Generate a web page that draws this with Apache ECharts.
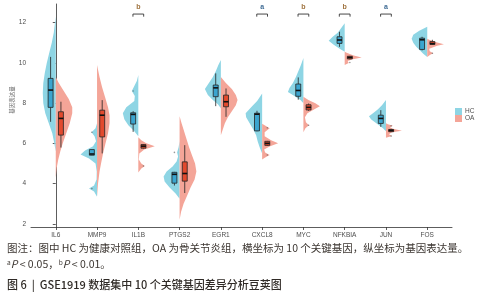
<!DOCTYPE html>
<html>
<head>
<meta charset="utf-8">
<script src="https://cdn.jsdelivr.net/npm/echarts@6/dist/echarts.min.js"></script>
<style>
  html, body { margin: 0; padding: 0; background: #fff; }
  #chart { width: 488px; height: 300px; }
</style>
</head>
<body>
<div id="chart"></div>
<script>
const genes = ['IL6', 'MMP9', 'IL1B', 'PTGS2', 'EGR1', 'CXCL8', 'MYC', 'NFKBIA', 'JUN', 'FOS'];
const yTicks = [2, 4, 6, 8, 10, 12];

// box stats per gene: [lower whisker, q1, median, q3, upper whisker]
const hcBox = [
  [7.07, 7.79, 8.65, 9.23, 10.3],
  [5.40, 5.41, 5.47, 5.69, 5.70],
  [6.57, 6.96, 7.44, 7.52, 7.60],
  [3.90, 4.02, 4.46, 4.56, 4.58],
  [7.85, 8.32, 8.76, 8.90, 9.48],
  [6.60, 6.62, 7.45, 7.50, 7.62],
  [8.17, 8.34, 8.63, 8.95, 9.28],
  [10.80, 10.97, 11.14, 11.30, 11.55],
  [6.82, 6.99, 7.24, 7.40, 7.65],
  [10.62, 10.67, 11.15, 11.23, 11.30]
];
const oaBox = [
  [5.79, 6.41, 7.24, 7.57, 8.07],
  [5.50, 6.32, 7.40, 7.65, 8.15],
  [5.74, 5.76, 5.86, 5.94, 5.96],
  [3.53, 4.12, 4.50, 5.08, 5.91],
  [7.32, 7.82, 8.07, 8.40, 8.73],
  [5.87, 5.90, 6.00, 6.10, 6.12],
  [7.62, 7.66, 7.79, 7.92, 7.98],
  [10.18, 10.20, 10.27, 10.33, 10.35],
  [6.56, 6.58, 6.64, 6.69, 6.72],
  [10.90, 10.92, 10.96, 11.06, 11.15]
];

// half-violin outlines: [expression, density]
const hcViolin = [
  [[5.6,0],[6.0,1.5],[6.5,3.5],[7.0,7],[7.5,10.5],[8.0,12.5],[8.5,13],[9.0,12.5],[9.5,11],[10.0,9],[10.5,6.5],[11.0,4],[11.5,2],[12.0,0.8],[12.3,0]],
  [[3.35,0],[3.6,3],[3.75,8],[3.9,3],[4.2,0.5],[4.6,0.3],[5.0,1.5],[5.25,8],[5.45,16.5],[5.65,12],[5.85,4],[6.1,1],[6.35,2.5],[6.55,5.5],[6.75,1.5],[7.0,0]],
  [[6.35,0],[6.6,4],[6.9,10],[7.2,14],[7.5,15.5],[7.8,12],[8.1,4],[8.35,3.5],[8.6,6.5],[8.85,4],[9.1,1.5],[9.4,0]],
  [[3.25,0],[3.5,4],[3.8,10],[4.1,15],[4.35,16],[4.6,13],[4.85,7],[5.1,3],[5.35,1.5],[5.55,2.5],[5.8,1],[6.1,0]],
  [[7.75,0],[7.95,3],[8.15,8],[8.4,13],[8.7,16],[9.0,12],[9.3,8],[9.6,5],[9.9,2.5],[10.15,0]],
  [[5.5,0],[5.8,2.5],[6.1,4.5],[6.4,6],[6.7,9],[7.0,12.5],[7.3,16],[7.5,16.5],[7.8,11],[8.1,5],[8.48,0]],
  [[8.0,0],[8.15,3],[8.35,9],[8.55,15.5],[8.75,14],[9.0,10.5],[9.3,7.5],[9.6,5],[9.9,2.5],[10.25,0]],
  [[10.55,0],[10.7,5],[10.9,11],[11.1,16],[11.3,12],[11.5,7],[11.7,4],[11.97,0]],
  [[6.6,0],[6.75,3],[6.9,7],[7.05,11],[7.2,15],[7.35,17],[7.5,13],[7.7,8],[7.9,4],[8.15,0]],
  [[10.3,0],[10.45,4],[10.6,7],[10.8,11],[11.0,14],[11.2,15.6],[11.4,14],[11.6,8],[11.8,0]]
];
const oaViolin = [
  [[4.3,0],[4.8,1],[5.2,2.5],[5.6,4.5],[6.0,7],[6.5,10.5],[7.0,14],[7.5,16.5],[7.8,16.5],[8.2,13],[8.6,8],[9.0,3],[9.3,0]],
  [[3.35,0],[4.0,1],[4.6,2.5],[5.0,4],[5.5,6],[6.0,8.5],[6.5,11],[7.0,12.5],[7.4,12.5],[7.8,11],[8.3,8],[8.8,5],[9.3,2.5],[9.9,0]],
  [[4.55,0],[4.75,3],[4.87,6.5],[5.0,3],[5.2,0.5],[5.5,1],[5.7,6],[5.86,16.5],[6.0,8],[6.15,3],[6.3,0]],
  [[2.2,0],[2.6,1.5],[3.0,4],[3.4,7.5],[3.8,11],[4.2,15],[4.6,16.8],[5.0,15.5],[5.4,12.5],[5.8,9.5],[6.2,7],[6.6,4.5],[7.0,2],[7.35,0]],
  [[6.4,0],[6.7,2],[7.0,4],[7.3,7],[7.6,11],[7.9,15],[8.15,16.7],[8.4,15],[8.7,11],[9.0,5],[9.3,0]],
  [[5.2,0],[5.3,3],[5.42,7.5],[5.55,3],[5.7,2],[5.85,8],[6.0,16],[6.15,9],[6.35,2.5],[6.55,2.5],[6.75,7.5],[6.9,2.5],[6.98,0]],
  [[6.55,0],[6.75,2],[6.9,5.5],[7.05,2.5],[7.3,1.5],[7.5,4],[7.7,11],[7.85,16.5],[8.0,12],[8.15,5],[8.32,0]],
  [[9.9,0],[10.0,4],[10.1,3],[10.18,8],[10.27,17],[10.37,9],[10.5,2],[10.55,0]],
  [[6.28,0],[6.36,6],[6.45,3],[6.55,6],[6.63,16],[6.72,7],[6.8,4],[6.87,7],[6.95,2],[7.0,0]],
  [[10.3,0],[10.4,3],[10.48,6],[10.58,2.5],[10.7,2],[10.85,10],[10.93,16.7],[11.02,10],[11.15,2],[11.2,0]]
];

// outliers: [gene index, value]
const hcOutliers = [[1, 6.55], [1, 3.75], [2, 8.6], [3, 5.55]];
const oaOutliers = [[2, 4.87], [5, 6.77], [5, 5.42], [6, 6.9], [7, 10.02], [8, 6.87], [8, 6.36], [9, 10.48]];

const sigLabels = ['', '', 'b', '', '', 'a', 'b', 'b', 'a', ''];

const hcColor = '#8ed5e4';
const oaColor = '#f4a598';
const hcBoxColor = '#3ba5cf';
const oaBoxColor = '#e24a2e';
const densityScale = 0.0242; // density -> category width
const boxOffset = 0.125;
const boxHalf = 0.06;
const fontColor = '#4d4d4d';
const lineColor = '#333';

function halfViolin(profiles, boxes, side, fill, boxFill) {
  return function (params, api) {
    const i = api.value(0);
    const pts = profiles[i].map(p => api.coord([i + side * p[1] * densityScale, p[0]]));
    const b = boxes[i];
    const bx = i + side * boxOffset;
    const tl = api.coord([bx - boxHalf, b[3]]);
    const br = api.coord([bx + boxHalf, b[1]]);
    const wTop = api.coord([bx, b[4]]);
    const wBot = api.coord([bx, b[0]]);
    const mL = api.coord([bx - boxHalf, b[2]]);
    const mR = api.coord([bx + boxHalf, b[2]]);
    return {
      type: 'group',
      children: [
        { type: 'polygon', shape: { points: pts }, style: { fill: fill } },
        { type: 'line', shape: { x1: wTop[0], y1: wTop[1], x2: wTop[0], y2: tl[1] }, style: { stroke: '#222', lineWidth: 0.8 } },
        { type: 'line', shape: { x1: wBot[0], y1: br[1], x2: wBot[0], y2: wBot[1] }, style: { stroke: '#222', lineWidth: 0.8 } },
        { type: 'rect', shape: { x: tl[0], y: tl[1], width: br[0] - tl[0], height: Math.max(br[1] - tl[1], 1) }, style: { fill: boxFill, stroke: '#222', lineWidth: 0.8 } },
        { type: 'line', shape: { x1: mL[0], y1: mL[1], x2: mR[0], y2: mR[1] }, style: { stroke: '#111', lineWidth: 1.6 } }
      ]
    };
  };
}

const chart = echarts.init(document.getElementById('chart'), null, { renderer: 'canvas' });

const option = {
  backgroundColor: '#fff',
  animation: false,
  textStyle: { fontFamily: 'Liberation Sans' },
  grid: { left: 31, right: 36, top: 4, bottom: 73 },
  legend: {
    orient: 'vertical',
    left: 455,
    top: 108,
    padding: 0,
    itemGap: 0,
    itemWidth: 7,
    itemHeight: 7,
    icon: 'rect',
    data: ['HC', 'OA'],
    textStyle: { fontSize: 6.5, color: fontColor, padding: [0, 0, 0, -2] }
  },
  xAxis: {
    type: 'value',
    min: -0.6,
    max: 9.6,
    axisLine: { lineStyle: { color: lineColor, width: 0.8 } },
    axisTick: { length: 3, lineStyle: { color: lineColor, width: 0.8 }, customValues: genes.map((g, i) => i) },
    axisLabel: {
      fontSize: 6.5, color: fontColor, margin: 5,
      customValues: genes.map((g, i) => i),
      formatter: v => genes[v]
    },
    splitLine: { show: false }
  },
  yAxis: {
    type: 'value',
    min: 1.84,
    max: 12.93,
    axisLine: { show: true, lineStyle: { color: lineColor, width: 0.8 } },
    axisTick: { show: true, length: 3, lineStyle: { color: lineColor, width: 0.8 }, customValues: yTicks },
    axisLabel: { fontSize: 6.5, color: fontColor, margin: 5, customValues: yTicks },
    splitLine: { show: false }
  },
  series: [
    {
      name: 'HC',
      type: 'custom',
      itemStyle: { color: hcColor },
      renderItem: halfViolin(hcViolin, hcBox, -1, hcColor, hcBoxColor),
      data: genes.map((g, i) => [i, hcBox[i][2]]),
      clip: false
    },
    {
      name: 'OA',
      type: 'custom',
      itemStyle: { color: oaColor },
      renderItem: halfViolin(oaViolin, oaBox, 1, oaColor, oaBoxColor),
      data: genes.map((g, i) => [i, oaBox[i][2]]),
      clip: false
    },
    {
      name: 'HC outliers',
      type: 'scatter',
      symbolSize: 1.6,
      itemStyle: { color: '#555', opacity: 0.6 },
      data: hcOutliers.map(o => [o[0] - boxOffset, o[1]])
    },
    {
      name: 'OA outliers',
      type: 'scatter',
      symbolSize: 1.6,
      itemStyle: { color: '#555', opacity: 0.6 },
      data: oaOutliers.map(o => [o[0] + boxOffset, o[1]])
    },
    {
      name: 'sig',
      type: 'custom',
      clip: false,
      data: sigLabels.map((s, i) => [i, 12.43]).filter((d, i) => sigLabels[i]),
      renderItem: function (params, api) {
        const i = api.value(0);
        const l = api.coord([i - 0.13, 12.43]);
        const r = api.coord([i + 0.13, 12.43]);
        const lb = api.coord([i - 0.13, 12.3]);
        const t = api.coord([i, 12.76]);
        return {
          type: 'group',
          children: [
            { type: 'polyline', shape: { points: [[lb[0], lb[1]], l, r, [r[0], lb[1]]] }, style: { stroke: '#333', lineWidth: 0.9, fill: null } },
            { type: 'text', x: t[0], y: t[1], style: { text: sigLabels[i], fontSize: 7, fontWeight: 'bold', fill: sigLabels[i] === 'a' ? '#3f6b94' : '#a07440', align: 'center', verticalAlign: 'middle', fontFamily: 'Liberation Sans' } }
          ]
        };
      }
    }
  ],
  graphic: [
    {
      type: 'text', x: 12, y: 100, rotation: Math.PI / 2,
      style: { text: '基因表达量', fontSize: 5.5, fill: '#666', align: 'center', verticalAlign: 'middle', fontFamily: 'Noto Sans CJK SC' }
    },
    {
      type: 'text', left: 7, top: 243,
      style: { text: '图注：图中 HC 为健康对照组，OA 为骨关节炎组，横坐标为 10 个关键基因，纵坐标为基因表达量。', fontSize: 10.5, fill: '#3b3530', fontFamily: 'Noto Sans CJK SC' }
    },
    {
      type: 'text', left: 7, top: 259,
      style: {
        text: '{sup|a}{it|P} < 0.05，{sup|b}{it|P} < 0.01。',
        fontSize: 10.5, fill: '#3b3530', fontFamily: 'Noto Sans CJK SC',
        rich: {
          sup: { fontSize: 6.5, verticalAlign: 'top', fill: '#3b3530', fontFamily: 'Noto Sans CJK SC' },
          it: { fontSize: 10.5, fontStyle: 'italic', fill: '#3b3530', fontFamily: 'Noto Sans CJK SC' }
        }
      }
    },
    {
      type: 'text', left: 7, top: 279,
      style: { text: '图 6  |  GSE1919 数据集中 10 个关键基因差异分析豆荚图', fontSize: 11, fontWeight: 500, fill: '#2f2a26', fontFamily: 'Noto Sans CJK SC' }
    }
  ]
};

chart.setOption(option);
</script>
</body>
</html>
